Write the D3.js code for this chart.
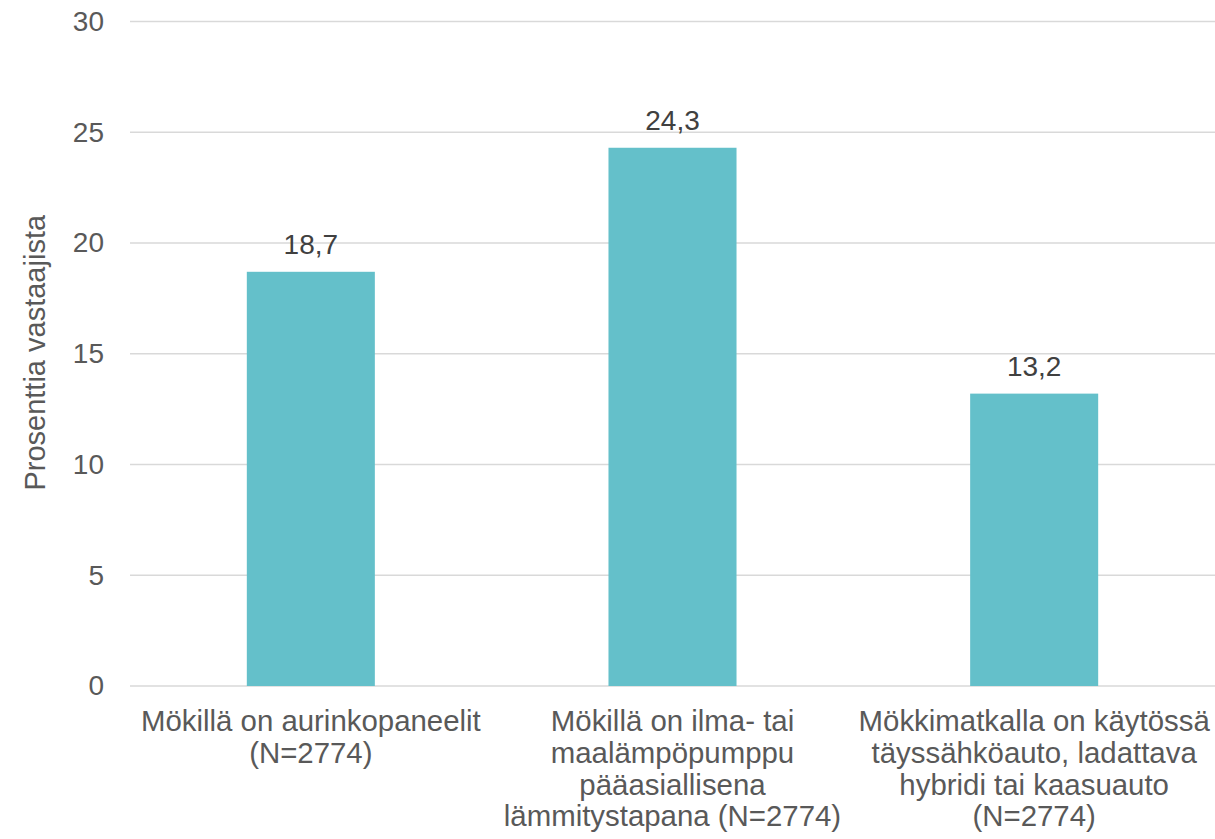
<!DOCTYPE html>
<html>
<head>
<meta charset="utf-8">
<script src="https://cdn.jsdelivr.net/npm/d3@7"></script>
<style>
  body { margin: 0; background: #fff; }
  text { font-family: "Liberation Sans", Arial, sans-serif; }
</style>
</head>
<body>
<div id="chart"></div>
<script>
const dims = {
    width: 1215, height: 839,
    top: 21.5, left: 130, right: 0, bottom: 153
}

const categories = [
    ["Mökillä on aurinkopaneelit", "(N=2774)"],
    ["Mökillä on ilma- tai", "maalämpöpumppu", "pääasiallisena", "lämmitystapana (N=2774)"],
    ["Mökkimatkalla on käytössä", "täyssähköauto, ladattava", "hybridi tai kaasuauto", "(N=2774)"]
];
const values = [18.7, 24.3, 13.2];
const yTicks = [0, 5, 10, 15, 20, 25, 30];
const yTitle = "Prosenttia vastaajista";

const barColor = "#64c0ca";
const tickColor = "#595959";
const fontSize = 28;

const svg = d3.select("#chart")
    .append("svg")
    .attr("width", dims.width)
    .attr("height", dims.height);

const x = d3.scaleBand()
    .domain(d3.range(categories.length))
    .range([dims.left, dims.width - dims.right])
    .paddingInner(0.646)
    .paddingOuter(0.323);

const y = d3.scaleLinear()
    .domain([0, 30])
    .range([dims.height - dims.bottom, dims.top]);

// gridlines
svg.append("g")
    .attr("class", "grid")
    .selectAll("line")
    .data(yTicks)
    .join("line")
    .attr("x1", dims.left)
    .attr("x2", dims.width - dims.right)
    .attr("y1", d => y(d))
    .attr("y2", d => y(d))
    .style("stroke", "#d9d9d9")
    .style("stroke-width", 1.5);

// y axis labels
const yAxis = svg.append("g")
    .attr("transform", `translate(${dims.left - 26},0)`)
    .call(d3.axisLeft(y).tickValues(yTicks).tickSize(0).tickPadding(0));
yAxis.select(".domain").remove();
yAxis.selectAll("text")
    .style("font-size", fontSize + "px")
    .style("fill", tickColor)
    .style("font-family", "'Liberation Sans', Arial, sans-serif");

svg.append("text")
    .attr("transform", `translate(45,${y(15) - 1}) rotate(-90)`)
    .style("text-anchor", "middle")
    .style("font-size", "29px")
    .style("fill", tickColor)
    .text(yTitle);

// bars
svg.append("g")
    .selectAll("rect")
    .data(values)
    .join("rect")
    .attr("x", (d, i) => x(i))
    .attr("width", x.bandwidth())
    .attr("y", d => y(d))
    .attr("height", d => y(0) - y(d))
    .style("fill", barColor);

// value labels
svg.append("g")
    .selectAll("text")
    .data(values)
    .join("text")
    .attr("x", (d, i) => x(i) + x.bandwidth() / 2)
    .attr("y", d => y(d) - 18)
    .style("text-anchor", "middle")
    .style("font-size", fontSize + "px")
    .style("fill", "#404040")
    .text(d => d.toFixed(1).replace(".", ","));

// category labels
const cats = svg.append("g")
    .selectAll("text")
    .data(categories)
    .join("text")
    .attr("x", (d, i) => x(i) + x.bandwidth() / 2)
    .attr("y", y(0) + 45)
    .style("text-anchor", "middle")
    .style("font-size", "29.4px")
    .style("fill", tickColor);

cats.selectAll("tspan")
    .data((d, i) => d.map(line => ({line, i})))
    .join("tspan")
    .attr("x", dd => x(dd.i) + x.bandwidth() / 2)
    .attr("dy", (dd, j) => j === 0 ? 0 : 31.8)
    .text(dd => dd.line);
</script>
</body>
</html>
